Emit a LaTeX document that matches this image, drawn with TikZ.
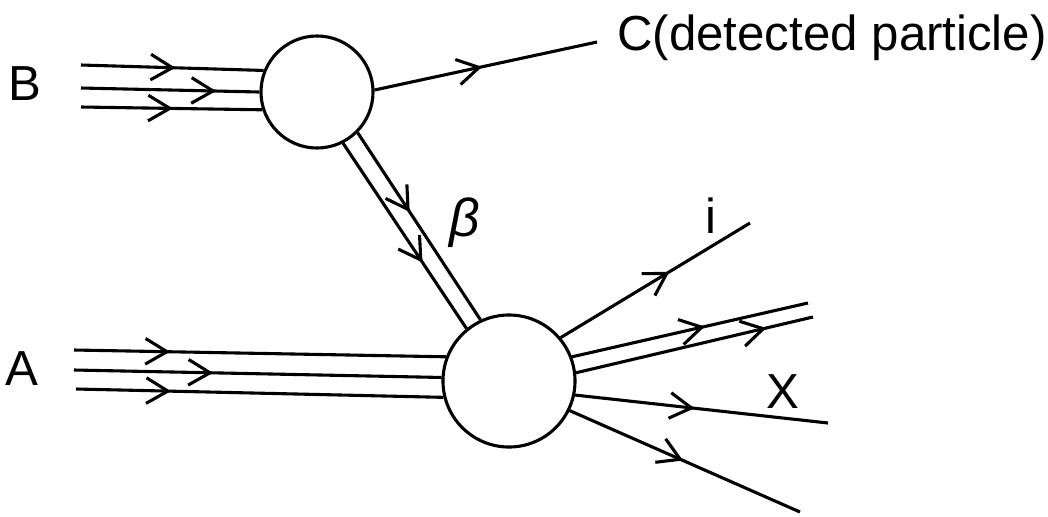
\documentclass[tikz,border=0pt]{standalone}
\usepackage{fontspec}
\setmainfont{Liberation Sans}
\usetikzlibrary{decorations.markings}

\tikzset{
  wire/.style={line width=2.2pt},
  blob/.style={circle,draw,line width=2.2pt,inner sep=0pt,fill=white},
  lbl/.style={font=\fontsize{35}{40}\selectfont,inner sep=0pt},
  midarrow/.style={postaction={decorate},decoration={markings,
      mark=at position #1 with {\draw[line width=2.2pt,line join=miter]
        (-5.4mm,3.2mm) -- (0,0) -- (-5.4mm,-3.2mm);}}}
}

\begin{document}
\begin{tikzpicture}[x=0.025cm,y=-0.025cm]%
  \useasboundingbox (0,0) rectangle (1048,516);
  \node[blob,minimum size=2.8cm] (upper) at (317,92) {};
  \node[blob,minimum size=3.3cm] (lower) at (509,381) {};
  % incoming beams
  \coordinate (b1) at (81,65); \coordinate (b2) at (81,88); \coordinate (b3) at (81,107);
  \coordinate (a1) at (74,350); \coordinate (a2) at (74,370); \coordinate (a3) at (76,389);
  \draw[wire,midarrow=0.5] (b1) -- (upper.158);
  \draw[wire,midarrow=0.74] (b2) -- (upper.180);
  \draw[wire,midarrow=0.49] (b3) -- (upper.198);
  \draw[wire,midarrow=0.25] (a1) -- (lower.159);
  \draw[wire,midarrow=0.37] (a2) -- (lower.177);
  \draw[wire,midarrow=0.25] (a3) -- (lower.194);
  \node[lbl,anchor=base] (blabel) at (24.5,100) {B};
  \node[lbl,anchor=base] (alabel) at (22,385) {A};
  % detected particle
  \coordinate (cend) at (597,42);
  \draw[wire,midarrow=0.47] (upper.2) -- (cend);
  \node[lbl,anchor=base west] (clabel) at (617,50) {C(detected particle)};
  % exchanged beta
  \draw[wire,midarrow=0.63] (upper.297) -- (lower.129);
  \draw[wire,midarrow=0.41] (upper.315) -- (lower.115);
  \node[lbl,font=\fontsize{38}{40}\selectfont\itshape] (beta) at (465,223) {β};
  % outgoing
  \coordinate (iend) at (750,223); \coordinate (d1end) at (808,303);
  \coordinate (d2end) at (813,317); \coordinate (xend) at (828,423);
  \coordinate (oend) at (800,512);
  \draw[wire,midarrow=0.56] (lower.40) -- (iend);
  \draw[wire,midarrow=0.55] (lower.21) -- (d1end);
  \draw[wire,midarrow=0.79] (lower.7) -- (d2end);
  \draw[wire,midarrow=0.46] (lower.348) -- (xend);
  \draw[wire,midarrow=0.48] (lower.334) -- (oend);
  \node[lbl,anchor=base] (ilabel) at (711,233) {i};
  \node[lbl,anchor=base] (xlabel) at (783,408) {X};
\end{tikzpicture}
\end{document}
